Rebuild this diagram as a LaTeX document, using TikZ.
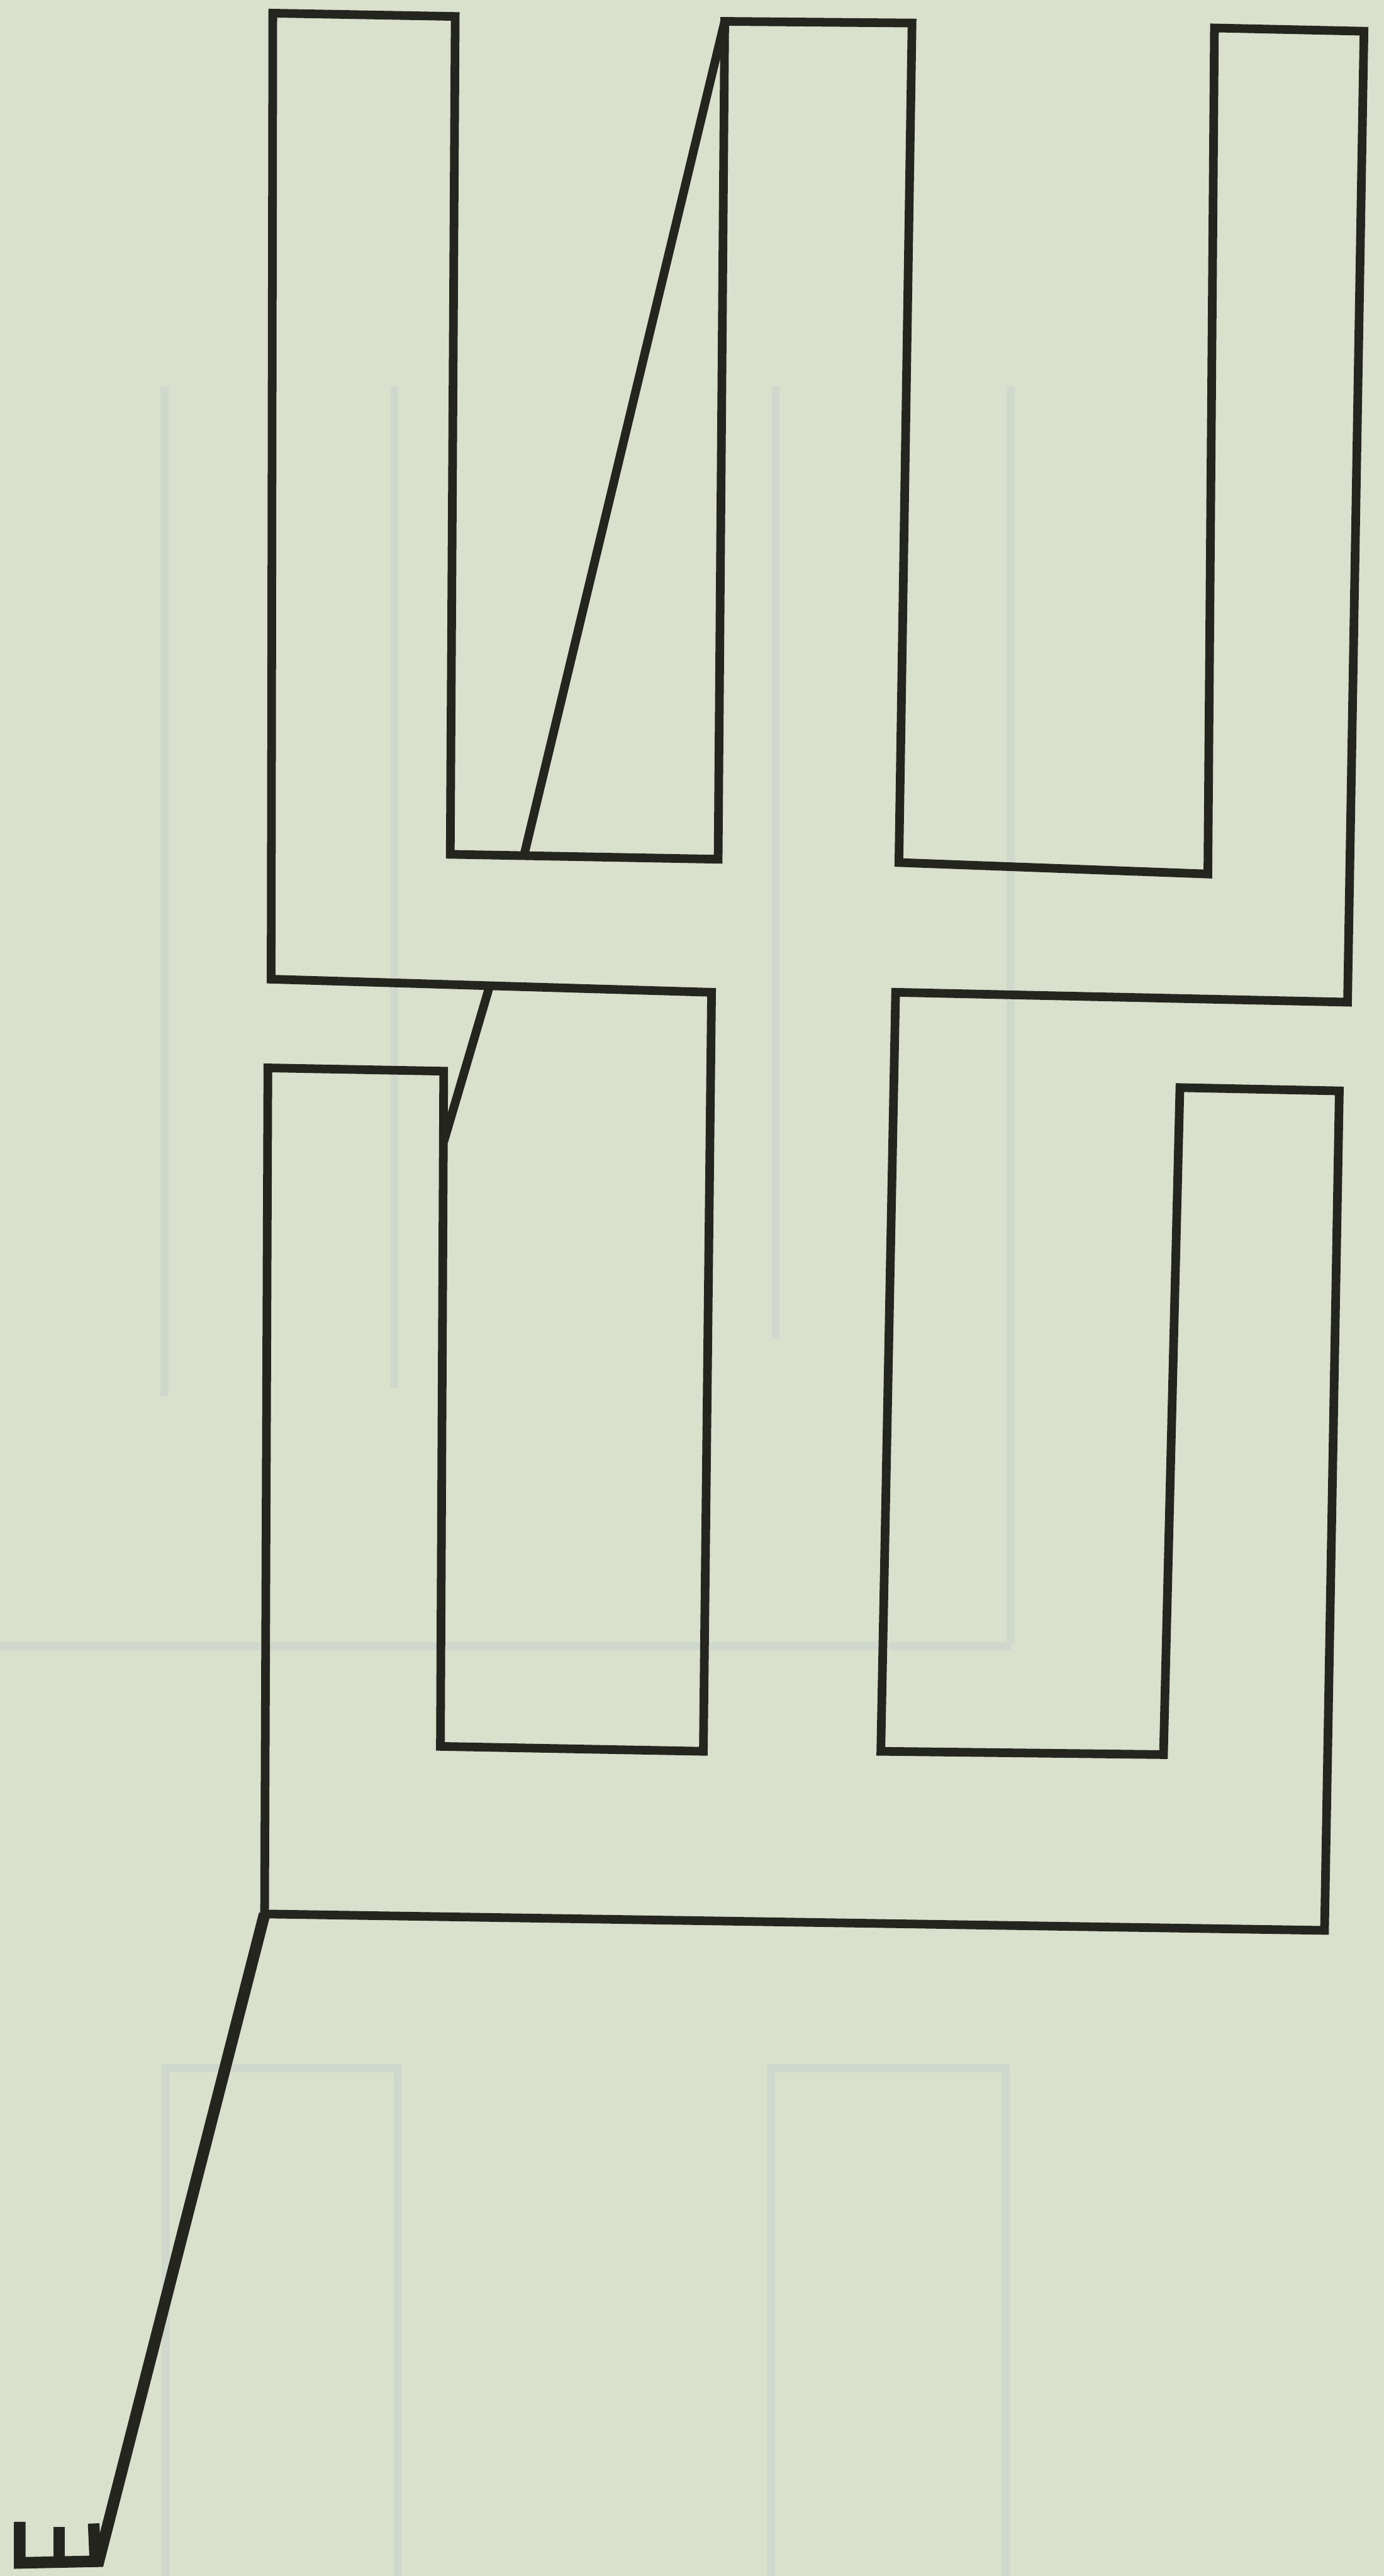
\documentclass[tikz,border=0pt]{standalone}
\usepackage{xcolor}
\usetikzlibrary{positioning}
\definecolor{paper}{HTML}{D9E0CB}
\definecolor{ink}{HTML}{25251F}
\definecolor{ghost}{HTML}{D0D8CE}
\begin{document}
\begin{tikzpicture}[x=0.01cm,y=-0.01cm,
        pen/.style={draw=ink,line width=1.5pt,line join=miter},
        thru/.style={draw=ghost,line width=1.4pt}]
        \fill[paper] (0,0) rectangle (842,1568);
        \useasboundingbox (0,0) rectangle (842,1568);
        % show-through from the back of the sheet
        \foreach \gx/\gb in {100/850,240/845,472/815,615/1000}
          \draw[thru] (\gx,235) -- (\gx,\gb);
        \draw[thru] (0,1002) -- (615,1002);
        \foreach \gl/\gr in {101/242,469/612}
          \draw[thru] (\gl,1568) -- (\gl,1259) -- (\gr,1259) -- (\gr,1568);
        % plotted outline
        \coordinate (jn) at (161,1165);
        \coordinate (tl) at (441,13);
        \coordinate (sl) at (298,600);
        \draw[pen] (jn) -- (806,1175) -- (815,664) -- (718,662) -- (708,1068)
          -- (536,1066) -- (545,604) -- (820,610) -- (830,19) -- (739,17)
          -- (735,532) -- (547,525) -- (555,14) -- (tl) -- (437,523)
          -- (274,520) -- (277,10) -- (166,8) -- (165,596) -- (sl)
          -- (433,604) -- (428,1066) -- (268,1063) -- (270,652) -- (163,650)
          -- (jn);
        \draw[pen] (tl) -- (319,520);
        \draw[pen] (sl) -- (270,695);
        % tail and small comb
        \draw[pen,line width=2pt] (12,1535) -- (12,1560) -- (60,1559) -- (jn);
        \draw[pen,line width=2pt] (36,1538) -- (36,1559);
        \draw[pen,line width=2pt] (57,1536) -- (58,1559);
      \end{tikzpicture}
\end{document}
